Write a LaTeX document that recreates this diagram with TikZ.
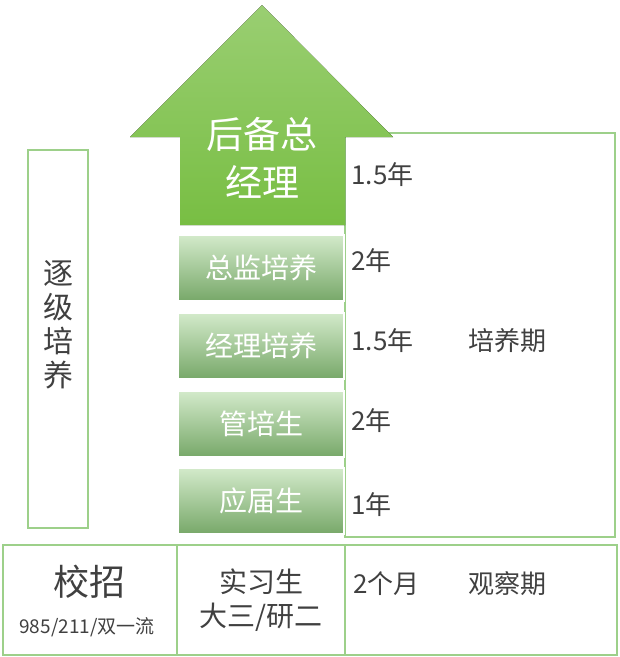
\documentclass[tikz,border=0pt]{standalone}
\usepackage{fontspec}
\setmainfont{Noto Sans CJK SC}
\begin{document}
\begin{tikzpicture}[x=1pt,y=-1pt]
\definecolor{agreen}{HTML}{78BE43}
\definecolor{lgreen}{HTML}{9DD08A}
\tikzset{frame/.style={draw=lgreen,line width=1.2pt},
  gbox/.style={draw=white,line width=1.5pt,top color=lgreen!45,bottom color=lgreen!95!green!80!black,minimum width=166pt,minimum height=66pt,font=\fontsize{28}{30}\selectfont,text=white},
  lbl/.style={text=black!75,font=\fontsize{26}{28}\selectfont,anchor=west}}
\useasboundingbox (0,0) rectangle (620,657);
\draw[frame] (345,133) rectangle (615,537);
\draw[frame] (28,150) rectangle (88,528);
\node[text=black!75,font=\fontsize{30}{34}\selectfont,align=center] (zj) at (58,325) {逐\\级\\培\\养};
\fill[top color=agreen!75,bottom color=agreen] (262,5) -- (393,137) -- (345,137) -- (345,225) -- (180,225) -- (180,137) -- (130,137) -- cycle;
\node[text=white,font=\fontsize{37}{48}\selectfont,align=center] (hb) at (262,158) {后备总\\经理};
\node[gbox] (b1) at (261,268) {总监培养};
\node[gbox] (b2) at (261,346) {经理培养};
\node[gbox] (b3) at (261,424) {管培生};
\node[gbox] (b4) at (261,501) {应届生};
\node[lbl] (t0) at (348,175) {1.5年};
\node[lbl] (t1) at (348,261) {2年};
\node[lbl] (t2) at (348,341) {1.5年};
\node[lbl] (t3) at (348,421) {2年};
\node[lbl] (t4) at (348,505) {1年};
\node[lbl] (pyq) at (465,341) {培养期};
\draw[frame] (3,545) rectangle (617,655);
\draw[frame] (177,545) -- (177,655);
\draw[frame] (345,545) -- (345,655);
\node[text=black!75,font=\fontsize{36}{40}\selectfont] (xz) at (89,582) {校招};
\node[text=black!75,font=\fontsize{19}{22}\selectfont] (xz2) at (87,627) {985/211/双一流};
\node[text=black!75,font=\fontsize{28}{34}\selectfont,align=center] (sx) at (261,600) {实习生\\大三/研二};
\node[lbl] (ym) at (350,584) {2个月};
\node[lbl] (gcq) at (465,584) {观察期};
\end{tikzpicture}
\end{document}
